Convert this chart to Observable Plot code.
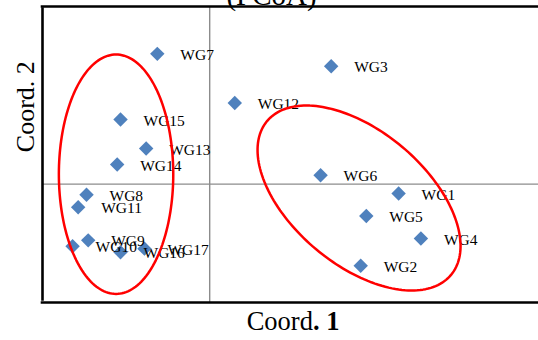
<!DOCTYPE html>
<html><head><meta charset="utf-8">
<script src="https://cdn.jsdelivr.net/npm/d3@7"></script>
<script src="https://cdn.jsdelivr.net/npm/@observablehq/plot@0.6"></script>
<style>html,body{margin:0;padding:0;background:#fff;overflow:hidden}</style>
</head><body><div id="chart"></div>
<script>
// ---- data ----
const names  = ["WG1","WG2","WG3","WG4","WG5","WG6","WG7","WG8","WG9","WG10","WG11","WG12","WG13","WG14","WG15","WG16","WG17"];
const coord1 = [0.339, 0.271, 0.218, 0.379, 0.281, 0.199, -0.094, -0.221, -0.218, -0.246, -0.236, 0.045, -0.114, -0.166, -0.160, -0.160, -0.117];
const coord2 = [-0.016, -0.138, 0.199, -0.092, -0.054, 0.015, 0.220, -0.018, -0.095, -0.105, -0.039, 0.137, 0.060, 0.033, 0.109, -0.115, -0.109];
const titleText = "(PCoA)";
const xLabel = "Coord. 1";
const yLabel = "Coord. 2";
// group ellipses (annotation): centre in data units, semi-axes in px, rotation in degrees
const groupCx = [-0.168, 0.268];
const groupCy = [0.0167, -0.0235];
const groupA = [57.2, 119.9];
const groupB = [119.7, 66.9];
const groupAngle = [0, 39.9];

// ---- layout ----
const W = 538, H = 340, mL = 42, mR = 0, mT = 6, mB = 38;
const xDomain = [-0.3, 0.59], yDomain = [-0.2, 0.3];
const kx = (W - mL - mR) / (xDomain[1] - xDomain[0]);
const ky = (H - mT - mB) / (yDomain[1] - yDomain[0]);

const points = names.map((n, i) => ({name: n, x: coord1[i], y: coord2[i]}));

const ellipsePts = [];
groupCx.forEach((cx, g) => {
  const th = groupAngle[g] * Math.PI / 180, a = groupA[g], b = groupB[g], cy = groupCy[g];
  for (let i = 0; i < 180; i++) {
    const t = i / 180 * 2 * Math.PI;
    const dx = a * Math.cos(t) * Math.cos(th) - b * Math.sin(t) * Math.sin(th);
    const dy = a * Math.cos(t) * Math.sin(th) + b * Math.sin(t) * Math.cos(th);
    ellipsePts.push({g, x: cx + dx / kx, y: cy - dy / ky});
  }
});

const font = "'Liberation Serif', 'Times New Roman', serif";

const chart = Plot.plot({
  width: W, height: H,
  marginLeft: mL, marginRight: mR, marginTop: mT, marginBottom: mB,
  style: {background: "white", fontFamily: font, overflow: "visible"},
  x: {domain: xDomain, axis: null},
  y: {domain: yDomain, axis: null},
  marks: [
    Plot.ruleX([0], {stroke: "#8c8c8c", strokeWidth: 1.4}),
    Plot.ruleY([0], {stroke: "#8c8c8c", strokeWidth: 1.4}),
    Plot.text([titleText], {text: d => d, frameAnchor: "top", dx: -19, dy: -22, fontSize: 29, fontFamily: font, fill: "black"}),
    Plot.ruleX([xDomain[0]], {stroke: "black", strokeWidth: 2.6, y1: yDomain[0], y2: yDomain[1], insetTop: -1.3, insetBottom: -1.3}),
    Plot.ruleY([yDomain[0], yDomain[1]], {stroke: "black", strokeWidth: 2.6, x1: xDomain[0], x2: xDomain[1], insetLeft: -1.3}),
    Plot.dot(points, {x: "x", y: "y", symbol: "diamond2", r: 6.5, fill: "#4F81BD", stroke: "none"}),
    Plot.text(points, {x: "x", y: "y", text: "name", textAnchor: "start", dx: 23, dy: 1, fontSize: 15.5, fontFamily: font, fill: "black"}),
    Plot.line(ellipsePts, {x: "x", y: "y", z: "g", curve: "linear-closed", stroke: "#ff0000", strokeWidth: 2.5, fill: "none"}),
    Plot.text([xLabel], {text: d => d, frameAnchor: "bottom", dx: 2.5, dy: 27, fontSize: 26.5, fontFamily: font, fill: "black"}),
    Plot.text([yLabel], {text: d => d, frameAnchor: "left", rotate: -90, dx: -17.3, dy: -2.3, fontSize: 26, fontFamily: font, fill: "black"})
  ]
});

// bold ". 1" in the x label, as in the original
chart.querySelectorAll("text").forEach(t => {
  if (t.textContent === xLabel) {
    t.textContent = "";
    const ns = "http://www.w3.org/2000/svg";
    const a = document.createElementNS(ns, "tspan"); a.textContent = "Coord";
    const b = document.createElementNS(ns, "tspan"); b.textContent = ". 1"; b.setAttribute("font-weight", "bold");
    t.appendChild(a); t.appendChild(b);
  }
});

document.getElementById("chart").appendChild(chart);
</script>
</body></html>
